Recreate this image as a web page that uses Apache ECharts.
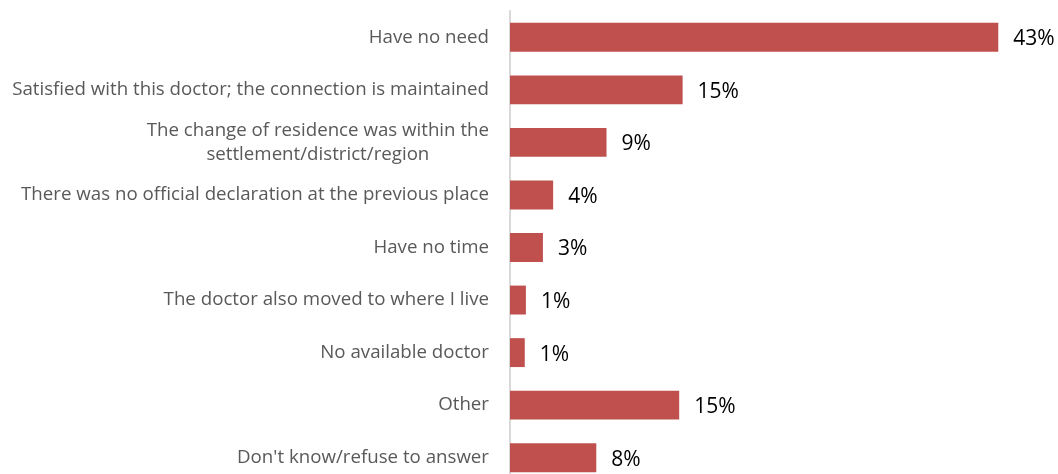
<!DOCTYPE html>
<html>
<head>
<meta charset="utf-8">
<script src="https://cdn.jsdelivr.net/npm/echarts@6/dist/echarts.min.js"></script>
<style>
  html, body { margin: 0; padding: 0; background: #fff; overflow: hidden; }
  /* taller than the window: the last row is cut off at the bottom in the original */
  #chart { width: 1058px; height: 486px; }
</style>
</head>
<body>
<div id="chart"></div>
<script>
// categories, top to bottom
const categories = [
  'Have no need',
  'Satisfied with this doctor; the connection is maintained',
  'The change of residence was within the\nsettlement/district/region',
  'There was no official declaration at the previous place',
  'Have no time',
  'The doctor also moved to where I live',
  'No available doctor',
  'Other',
  "Don't know/refuse to answer"
];
// share of respondents, % (labels rounded)
const values = [43, 15.2, 8.5, 3.8, 2.9, 1.4, 1.3, 14.9, 7.6];

const chart = echarts.init(document.getElementById('chart'));

const option = {
  animation: false,
  grid: { left: 510, right: 37, top: 11, bottom: 2, containLabel: false },
  xAxis: {
    type: 'value',
    min: 0,
    max: 45,
    show: false
  },
  yAxis: {
    type: 'category',
    inverse: true,
    data: categories,
    axisLine: { show: true, lineStyle: { color: '#d9d9d9', width: 2 } },
    axisTick: { show: false },
    axisLabel: {
      margin: 21,
      fontFamily: 'Open Sans',
      fontSize: 18.7,
      color: '#595959',
      lineHeight: 24,
      // center each line of a wrapped label, like the original
      formatter: function (v) {
        return v.split('\n').map(function (l) { return '{c|' + l + '}'; }).join('\n');
      },
      rich: {
        c: { align: 'center', fontFamily: 'Open Sans', fontSize: 18.7, color: '#595959', lineHeight: 24 }
      }
    }
  },
  series: [{
    type: 'bar',
    data: values,
    barWidth: '55%',
    itemStyle: { color: '#c0504d' },
    label: {
      show: true,
      position: 'right',
      distance: 15,
      offset: [0, 2],
      fontFamily: 'Open Sans',
      fontSize: 21,
      color: '#000',
      formatter: function (p) { return Math.round(p.value) + '%'; }
    }
  }]
};

chart.setOption(option);
</script>
</body>
</html>
